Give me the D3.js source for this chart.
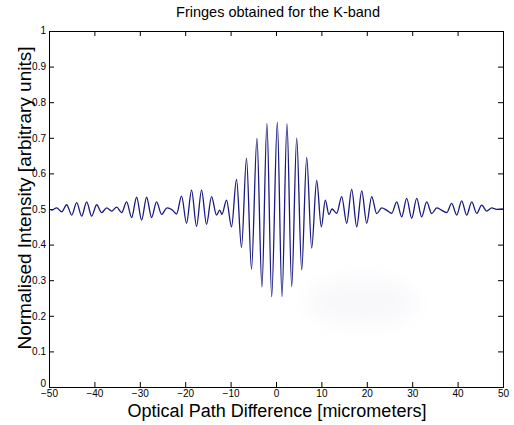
<!DOCTYPE html>
<html>
<head>
<meta charset="utf-8">
<script src="https://cdn.jsdelivr.net/npm/d3@7"></script>
<style>
  html, body { margin: 0; padding: 0; background: #ffffff; }
  svg { display: block; font-family: "Liberation Sans", Arial, sans-serif; }
</style>
</head>
<body>
<svg id="chart" width="514" height="425"></svg>
<script>
// ---- data ----
const chartTitle = "Fringes obtained for the K-band";
const xLabel = "Optical Path Difference [micrometers]";
const yLabel = "Normalised Intensity [arbitrary units]";

const xTicks = [-50, -40, -30, -20, -10, 0, 10, 20, 30, 40, 50];
const yTicks = [0, 0.1, 0.2, 0.3, 0.4, 0.5, 0.6, 0.7, 0.8, 0.9, 1];

// optical path difference (micrometers) at fringe extrema / turning points
const opd = [
  -50, -49.4, -48.3, -47.2, -46.1, -45.0, -43.9, -42.8, -41.7, -40.6,
  -39.5, -38.4, -37.3, -36.2, -35.1, -34.0, -32.9, -31.8, -30.7, -29.6,
  -28.5, -27.4, -26.3, -25.2, -24.0, -22.9, -21.9, -20.8, -19.7, -18.6,
  -17.5, -16.4, -15.3, -14.2, -13.1, -12.4, -11.9, -10.9, -9.8, -8.7,
  -7.6, -6.5, -5.4, -4.2, -3.1, -2.0, -0.95, 0.29, 1.32, 2.42,
  3.46, 4.56, 5.66, 6.76, 7.86, 8.96, 9.98, 10.86, 11.67, 12.33,
  13.37, 14.47, 15.57, 16.67, 17.78, 18.88, 19.98, 21.08, 22.18, 23.28,
  24.34, 25.48, 26.59, 27.69, 28.79, 29.89, 30.99, 32.09, 33.19, 34.30,
  35.40, 36.45, 37.60, 38.70, 39.80, 40.90, 42.00, 43.11, 44.21, 45.31,
  46.41, 47.51, 48.61, 50
];
// normalised intensity at those points
const intensity = [
  0.5, 0.497, 0.503, 0.492, 0.512, 0.483, 0.518, 0.48, 0.52, 0.48,
  0.512, 0.49, 0.503, 0.494, 0.505, 0.49, 0.52, 0.476, 0.533, 0.469,
  0.533, 0.476, 0.52, 0.485, 0.503, 0.498, 0.486, 0.536, 0.46, 0.553,
  0.451, 0.553, 0.457, 0.535, 0.483, 0.497, 0.485, 0.525, 0.45, 0.583,
  0.392, 0.643, 0.331, 0.698, 0.281, 0.74, 0.254, 0.743, 0.254, 0.739,
  0.282, 0.699, 0.329, 0.645, 0.39, 0.58, 0.45, 0.525, 0.484, 0.5,
  0.488, 0.535, 0.46, 0.555, 0.45, 0.551, 0.46, 0.535, 0.487, 0.503,
  0.497, 0.488, 0.52, 0.478, 0.53, 0.474, 0.53, 0.478, 0.52, 0.487,
  0.503, 0.497, 0.49, 0.516, 0.483, 0.523, 0.483, 0.52, 0.488, 0.511,
  0.494, 0.503, 0.499, 0.5
];

// ---- layout ----
const svg = d3.select("#chart");
const L = 49, R = 503, T = 31, B = 387;

const x = d3.scaleLinear().domain([-50, 50]).range([L, R]);
const y = d3.scaleLinear().domain([0, 1]).range([B, T]);

// faint smudge seen in the reference
const defs = svg.append("defs");
const blur = defs.append("filter").attr("id", "blur")
  .attr("x", "-50%").attr("y", "-50%").attr("width", "200%").attr("height", "200%");
blur.append("feGaussianBlur").attr("stdDeviation", 10);
svg.append("ellipse")
  .attr("cx", 362).attr("cy", 302).attr("rx", 55).attr("ry", 24)
  .attr("fill", "#f8f8fb").attr("filter", "url(#blur)");

// title
svg.append("text")
  .attr("x", (L + R) / 2 + 2).attr("y", 17)
  .attr("text-anchor", "middle")
  .attr("font-size", 14.5)
  .attr("fill", "#000")
  .text(chartTitle);

// axes (MATLAB style, ticks inward on all sides)
const tickLen = 5;
const gx = svg.append("g").attr("transform", `translate(0,${B})`)
  .call(d3.axisBottom(x).tickValues(xTicks).tickSize(-tickLen).tickPadding(3)
        .tickFormat(d3.format("d")));
const gxTop = svg.append("g").attr("transform", `translate(0,${T})`)
  .call(d3.axisTop(x).tickValues(xTicks).tickSize(-tickLen).tickFormat(""));
const gy = svg.append("g").attr("transform", `translate(${L},0)`)
  .call(d3.axisLeft(y).tickValues(yTicks).tickSize(-tickLen).tickPadding(3)
        .tickFormat(d => d === 0 || d === 1 ? String(d) : d3.format(".1f")(d)));
const gyR = svg.append("g").attr("transform", `translate(${R},0)`)
  .call(d3.axisRight(y).tickValues(yTicks).tickSize(-tickLen).tickFormat(""));

[gx, gxTop, gy, gyR].forEach(g => {
  g.select(".domain").remove();
  g.selectAll(".tick line").attr("stroke", "#000").attr("stroke-width", 1);
  g.selectAll(".tick text").attr("font-size", 10).attr("fill", "#000")
    .attr("font-family", "'Liberation Sans', Arial, sans-serif");
});
gx.selectAll(".tick text").attr("dy", "0.7em");
// lift the "0" label a little so it sits above the "-50" label, as in the reference
gy.selectAll(".tick text").filter(d => d === 0).attr("dy", "-0.1em");
gy.selectAll(".tick text").filter(d => d === 1).attr("dy", "0.2em");

// the fringe curve
const pts = opd.map((v, i) => [v, intensity[i]]);
const line = d3.line()
  .x(d => x(d[0])).y(d => y(d[1]))
  .curve(d3.curveMonotoneX);
svg.append("path")
  .datum(pts)
  .attr("d", line)
  .attr("fill", "none")
  .attr("stroke", "#1a1a80")
  .attr("stroke-width", 1.3)
  .attr("stroke-linejoin", "round");

// box
svg.append("rect")
  .attr("x", L + 0.5).attr("y", T + 0.5)
  .attr("width", R - L).attr("height", B - T)
  .attr("fill", "none").attr("stroke", "#000").attr("stroke-width", 1);

// axis labels
svg.append("text")
  .attr("x", 277).attr("y", 417)
  .attr("text-anchor", "middle")
  .attr("font-size", 18)
  .attr("fill", "#000")
  .text(xLabel);

svg.append("text")
  .attr("transform", `translate(31,198) rotate(-90)`)
  .attr("text-anchor", "middle")
  .attr("font-size", 19)
  .attr("fill", "#000")
  .text(yLabel);
</script>
</body>
</html>
